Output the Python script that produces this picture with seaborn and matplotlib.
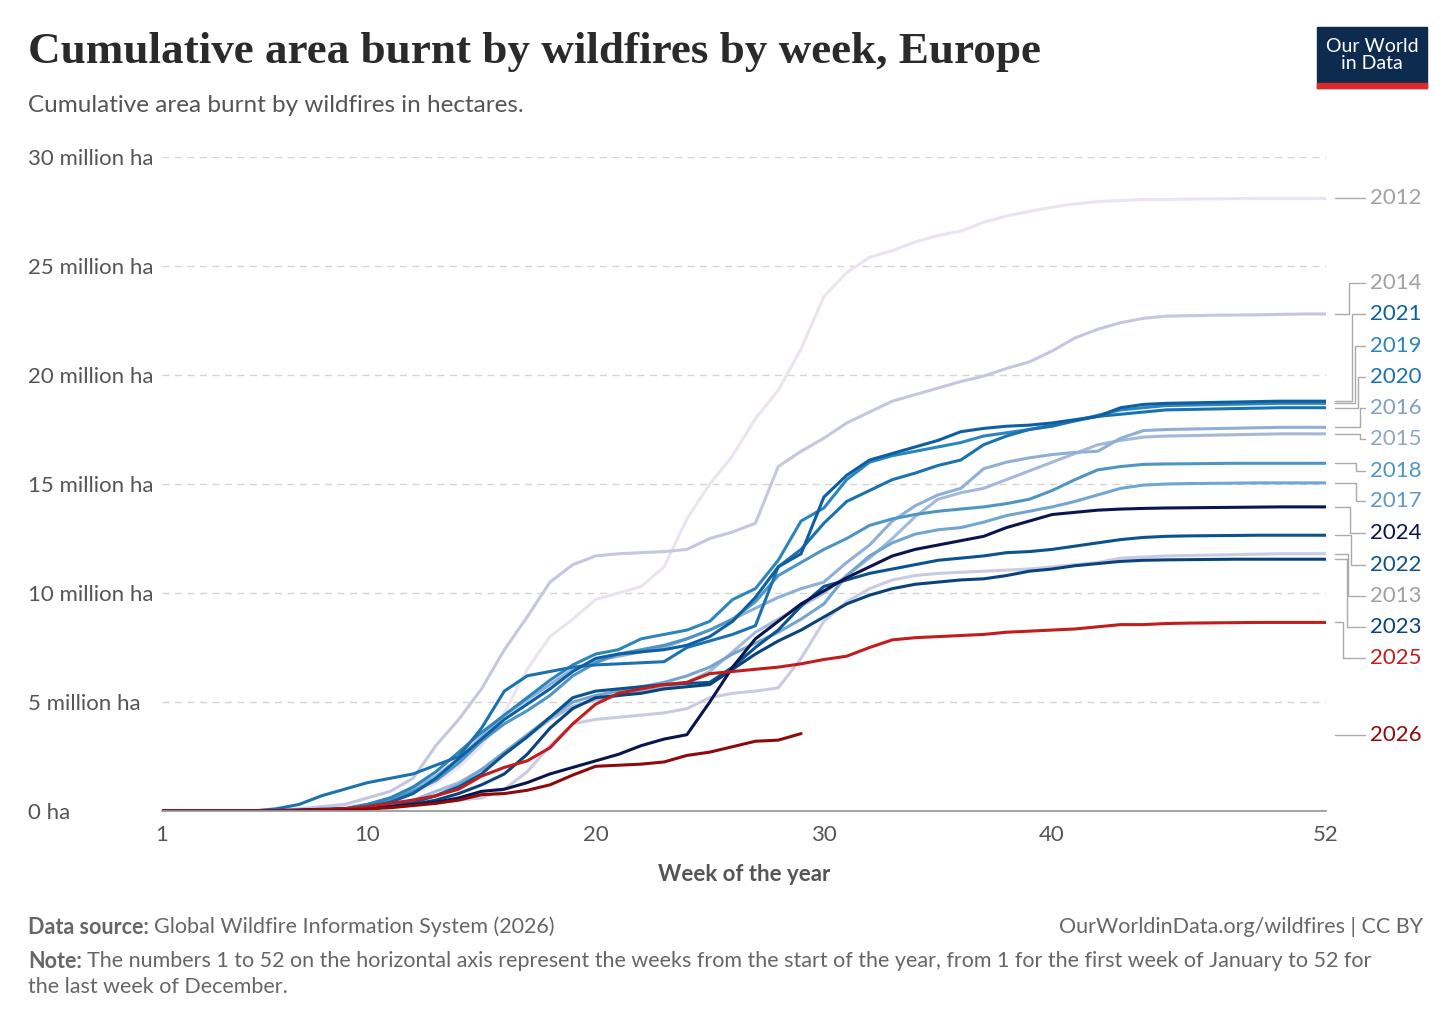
import matplotlib
matplotlib.use("Agg")
import matplotlib.pyplot as plt
import seaborn as sns
import pandas as pd
import numpy as np
from matplotlib.patches import Rectangle

sns.set_theme(style="white")
plt.rcParams['font.family'] = ['Lato', 'DejaVu Sans']

weeks = list(range(1, 53))
# values in million hectares, weeks 1..52
y2012 = [0,0,0,0,0,0,0.05,0.1,0.2,0.3,0.5,0.8,1.3,2.0,3.0,4.5,6.5,8.0,8.8,9.7,10.0,10.3,11.2,13.4,15.0,16.3,18.0,19.3,21.2,23.6,24.7,25.4,25.7,26.1,26.4,26.6,27.0,27.3,27.5,27.7,27.85,27.95,28.0,28.05,28.05,28.07,28.08,28.09,28.1,28.1,28.1,28.1]
y2013 = [0,0,0,0,0,0,0,0.02,0.05,0.1,0.2,0.3,0.4,0.5,0.6,1.0,1.8,3.0,4.0,4.2,4.3,4.4,4.5,4.7,5.2,5.4,5.5,5.65,7.0,8.7,9.6,10.2,10.6,10.8,10.9,10.95,11.0,11.05,11.1,11.2,11.3,11.4,11.6,11.65,11.7,11.72,11.74,11.76,11.78,11.8,11.8,11.8]
y2014 = [0,0,0,0,0.02,0.05,0.1,0.2,0.3,0.6,0.9,1.5,3.0,4.2,5.6,7.4,8.9,10.5,11.3,11.7,11.8,11.85,11.9,12.0,12.5,12.8,13.2,15.8,16.5,17.1,17.8,18.3,18.8,19.1,19.4,19.7,19.95,20.3,20.6,21.1,21.7,22.1,22.4,22.6,22.7,22.72,22.74,22.75,22.76,22.78,22.8,22.8]
y2015 = [0,0,0,0,0,0,0.02,0.05,0.1,0.2,0.3,0.5,0.9,1.3,1.9,2.6,3.4,4.2,4.8,5.1,5.3,5.5,5.7,5.9,6.4,7.3,8.2,8.8,9.4,10.0,10.8,11.6,12.5,13.5,14.3,14.6,14.8,15.2,15.6,16.0,16.4,16.8,17.0,17.15,17.2,17.22,17.24,17.26,17.28,17.3,17.3,17.3]
y2016 = [0,0,0,0,0,0,0.02,0.05,0.1,0.3,0.6,1.0,1.6,2.4,3.4,4.4,5.1,5.8,6.5,6.9,7.1,7.3,7.5,7.9,8.3,8.8,9.3,9.8,10.2,10.5,11.4,12.2,13.3,14.0,14.5,14.8,15.7,16.0,16.2,16.35,16.45,16.5,17.1,17.45,17.5,17.52,17.54,17.56,17.58,17.6,17.6,17.6]
y2017 = [0,0,0,0,0,0,0,0.02,0.05,0.1,0.2,0.4,0.7,1.2,1.9,2.7,3.5,4.3,5.0,5.3,5.5,5.7,5.9,6.2,6.6,7.2,7.7,8.2,8.8,9.5,10.8,11.7,12.3,12.7,12.9,13.0,13.25,13.55,13.75,13.95,14.2,14.5,14.8,14.95,15.0,15.02,15.03,15.04,15.05,15.05,15.05,15.05]
y2018 = [0,0,0,0,0,0,0.02,0.05,0.1,0.3,0.5,0.9,1.4,2.2,3.2,4.0,4.6,5.3,6.2,6.8,7.2,7.4,7.6,7.9,8.3,8.8,9.6,10.8,11.4,12.0,12.5,13.1,13.4,13.6,13.75,13.85,13.95,14.1,14.3,14.7,15.2,15.65,15.8,15.9,15.92,15.93,15.94,15.95,15.95,15.95,15.95,15.95]
y2019 = [0,0,0,0,0,0,0.02,0.05,0.1,0.3,0.6,1.1,1.8,2.7,3.6,4.4,5.2,6.0,6.7,7.2,7.4,7.9,8.1,8.3,8.7,9.7,10.2,11.5,13.3,13.9,15.2,16.0,16.3,16.5,16.7,16.9,17.2,17.35,17.5,17.7,17.9,18.15,18.4,18.5,18.6,18.62,18.64,18.66,18.68,18.7,18.7,18.7]
y2020 = [0,0,0,0,0,0.1,0.3,0.7,1.0,1.3,1.5,1.7,2.1,2.5,3.8,5.5,6.2,6.4,6.6,6.7,6.75,6.8,6.85,7.5,7.8,8.1,8.5,11.2,12.0,13.2,14.2,14.7,15.2,15.5,15.85,16.1,16.8,17.2,17.5,17.65,17.9,18.1,18.2,18.3,18.4,18.42,18.44,18.46,18.48,18.5,18.5,18.5]
y2021 = [0,0,0,0,0,0,0.02,0.05,0.1,0.2,0.4,0.8,1.5,2.4,3.3,4.2,4.9,5.6,6.4,7.0,7.2,7.3,7.4,7.6,8.0,8.7,9.8,11.2,11.8,14.4,15.4,16.1,16.4,16.7,17.0,17.4,17.55,17.65,17.7,17.8,17.95,18.1,18.5,18.65,18.7,18.72,18.74,18.76,18.78,18.8,18.8,18.8]
y2022 = [0,0,0,0,0,0,0,0.02,0.05,0.1,0.2,0.4,0.7,1.1,1.7,2.6,3.4,4.3,5.2,5.5,5.6,5.7,5.8,5.85,5.9,6.6,7.5,8.3,9.4,10.3,10.6,10.9,11.1,11.3,11.5,11.6,11.7,11.85,11.9,12.0,12.15,12.3,12.45,12.55,12.6,12.62,12.63,12.64,12.65,12.65,12.65,12.65]
y2023 = [0,0,0,0,0,0,0,0.02,0.05,0.1,0.2,0.3,0.5,0.8,1.2,1.7,2.6,3.8,4.7,5.2,5.3,5.4,5.6,5.7,5.8,6.5,7.2,7.8,8.3,8.9,9.5,9.9,10.2,10.4,10.5,10.6,10.65,10.8,11.0,11.1,11.25,11.35,11.45,11.5,11.52,11.53,11.54,11.55,11.55,11.55,11.55,11.55]
y2024 = [0,0,0,0,0,0.02,0.05,0.08,0.1,0.15,0.2,0.3,0.4,0.6,0.9,1.0,1.3,1.7,2.0,2.3,2.6,3.0,3.3,3.5,5.0,6.6,7.9,8.7,9.5,10.1,10.7,11.2,11.7,12.0,12.2,12.4,12.6,13.0,13.3,13.6,13.7,13.8,13.85,13.88,13.9,13.91,13.92,13.93,13.94,13.95,13.95,13.95]
y2025 = [0,0,0,0,0,0,0.02,0.05,0.1,0.2,0.35,0.5,0.7,1.0,1.6,2.0,2.3,2.9,4.0,4.9,5.4,5.6,5.8,5.9,6.3,6.4,6.5,6.6,6.75,6.95,7.1,7.5,7.85,7.95,8.0,8.05,8.1,8.2,8.25,8.3,8.35,8.45,8.55,8.55,8.6,8.62,8.63,8.64,8.65,8.65,8.65,8.65]
y2026 = [0,0,0,0,0,0,0.02,0.04,0.06,0.1,0.15,0.25,0.35,0.5,0.75,0.8,0.95,1.2,1.65,2.05,2.1,2.15,2.25,2.55,2.7,2.95,3.2,3.25,3.55]

series = {"2012": y2012, "2013": y2013, "2014": y2014, "2015": y2015, "2016": y2016,
          "2017": y2017, "2018": y2018, "2019": y2019, "2020": y2020, "2021": y2021,
          "2022": y2022, "2023": y2023, "2024": y2024, "2025": y2025, "2026": y2026}
colors = {"2012": "#ebe3f0", "2013": "#c9cbe2", "2014": "#c4c7df", "2015": "#a3b9da",
          "2016": "#8fb0d6", "2017": "#72a6cf", "2018": "#4f95c4", "2019": "#2b86bd",
          "2020": "#1b72ae", "2021": "#0e5fa2", "2022": "#0c528d", "2023": "#0a437c",
          "2024": "#0a1550", "2025": "#c21d1d", "2026": "#8e0a0a"}
label_colors = dict(colors)
label_colors.update({"2012": "#a0a0aa", "2013": "#a0a0aa", "2014": "#a0a0aa", "2015": "#8fa6c6",
                     "2016": "#7f9fc6", "2017": "#5f98c4"})
label_y = {"2012": 28.12, "2014": 24.2, "2021": 22.8, "2019": 21.35, "2020": 19.9,
           "2016": 18.5, "2015": 17.05, "2018": 15.6, "2017": 14.2, "2024": 12.75,
           "2022": 11.3, "2013": 9.85, "2023": 8.45, "2025": 7.0, "2026": 3.5}
elbow_x = {"2012": 52.9, "2014": 53.0, "2021": 53.15, "2019": 53.25, "2020": 53.4,
           "2016": 53.5, "2015": 53.5, "2018": 53.3, "2017": 53.3, "2024": 53.05,
           "2022": 53.1, "2013": 52.95, "2023": 52.9, "2025": 52.75, "2026": 52.9}

rows = []
for yr, vals in series.items():
    for w, v in zip(weeks, vals):
        rows.append({"week": w, "value": v, "year": yr})
df = pd.DataFrame(rows)

fig = plt.figure(figsize=(14.56, 10.28), dpi=100)
ax = fig.add_axes([162/1456, 1-811/1028, 1164/1456, 654/1028])
order = list(series.keys())
sns.lineplot(data=df, x="week", y="value", hue="year", hue_order=order,
             palette=colors, linewidth=2.2, legend=False, ax=ax)

ax.set_xlim(1, 52)
ax.set_ylim(0, 30)
ax.set_xticks([1, 10, 20, 30, 40, 52])
ax.set_yticks([0, 5, 10, 15, 20, 25, 30])
ax.set_yticklabels(["0 ha", "5 million ha", "10 million ha", "15 million ha",
                    "20 million ha", "25 million ha", "30 million ha"])
for y in [5, 10, 15, 20, 25, 30]:
    ax.axhline(y, color="#d5d5d5", lw=1, ls=(0, (5, 4)), zorder=0)
for s in ["top", "right", "left"]:
    ax.spines[s].set_visible(False)
ax.spines["bottom"].set_color("#999999")
ax.tick_params(axis="x", length=6, color="#999999", labelsize=16, labelcolor="#555555", pad=4)
ax.tick_params(axis="y", length=0, labelsize=16, labelcolor="#555555", pad=0)
for lab in ax.get_yticklabels():
    lab.set_horizontalalignment("left")
    lab.set_x(-134/1164)
ax.set_xlabel("Week of the year", fontsize=16, color="#555555", fontweight="bold", labelpad=14)
ax.set_ylabel("")

for yr, vals in series.items():
    yv = vals[-1]
    ly = label_y[yr]
    if yr == "2026":
        ax.plot([52.4, 53.7], [ly, ly], color="#aaaaaa", lw=1, clip_on=False)
    else:
        ex = elbow_x[yr]
        ax.plot([52.4, ex, ex, 53.7], [yv, yv, ly, ly], color="#aaaaaa", lw=1, clip_on=False)
    ax.text(53.93, ly, yr, fontsize=16, color=label_colors[yr], va="center", ha="left")

fig.text(28/1456, 1-52/1028, "Cumulative area burnt by wildfires by week, Europe",
         fontsize=32.5, fontweight="bold", family=["Liberation Serif"], color="#2a2a2a", va="center")
fig.text(28/1456, 1-105/1028, "Cumulative area burnt by wildfires in hectares.",
         fontsize=17.5, color="#555555", va="center")

fig.patches.append(Rectangle((1317/1456, 1-88/1028), 110/1456, 61/1028,
                             transform=fig.transFigure, color="#0d2a4f"))
fig.patches.append(Rectangle((1317/1456, 1-88/1028), 110/1456, 5/1028,
                             transform=fig.transFigure, color="#dc2a2a"))
fig.text(1372/1456, 1-55/1028, "Our World\nin Data", fontsize=14, color="white",
         ha="center", va="center", linespacing=1.0)

fs = 15.5
t = fig.text(28/1456, 1-927/1028, "Data source:", fontsize=fs, color="#666666",
             va="center", fontweight="bold")
fig.canvas.draw()
bb = t.get_window_extent()
fig.text(bb.x1/1456 + 5/1456, 1-927/1028, "Global Wildfire Information System (2026)",
         fontsize=fs, color="#666666", va="center")
fig.text(1423/1456, 1-927/1028, "OurWorldinData.org/wildfires | CC BY",
         fontsize=fs, color="#666666", va="center", ha="right")
t2 = fig.text(28/1456, 1-961/1028, "Note:", fontsize=fs, color="#666666",
              va="center", fontweight="bold")
fig.canvas.draw()
bb2 = t2.get_window_extent()
fig.text(bb2.x1/1456 + 5/1456, 1-961/1028,
         "The numbers 1 to 52 on the horizontal axis represent the weeks from the start of the year, from 1 for the first week of January to 52 for",
         fontsize=fs, color="#666666", va="center")
fig.text(28/1456, 1-987/1028, "the last week of December.",
         fontsize=fs, color="#666666", va="center")

fig.savefig("out.png", dpi=100, facecolor="white")
